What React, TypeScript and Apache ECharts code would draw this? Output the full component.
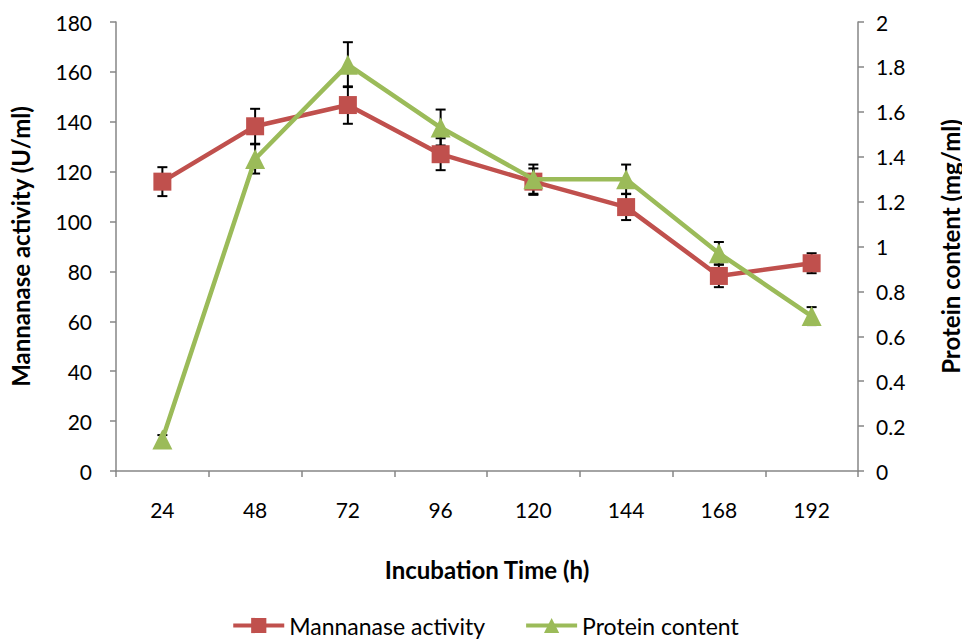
import React, { useEffect, useRef } from "react";
import * as echarts from "echarts";

const categories = ["24", "48", "72", "96", "120", "144", "168", "192"];
const mannanase = [116, 138.2, 146.7, 127, 116, 105.8, 78.2, 83.3];
const mannanaseErr = [5.8, 7, 7.5, 6.4, 5.3, 5.2, 4.5, 4];
const protein = [0.14, 1.39, 1.81, 1.53, 1.3, 1.3, 0.97, 0.69];
const proteinErr = [0.02, 0.065, 0.1, 0.08, 0.065, 0.065, 0.05, 0.04];

const FONT = "Lato";
const RED = "#C0504D";
const GREEN = "#9BBB59";
const AXIS = "#868686";

function errorRender(params: any, api: any) {
  const x = api.value(0);
  const lo = api.value(1);
  const hi = api.value(2);
  const top = api.coord([x, hi]);
  const bot = api.coord([x, lo]);
  const cap = 5;
  const style = { stroke: "#000", lineWidth: 2 };
  return {
    type: "group",
    children: [
      { type: "line", shape: { x1: top[0], y1: top[1], x2: bot[0], y2: bot[1] }, style },
      { type: "line", shape: { x1: top[0] - cap, y1: top[1], x2: top[0] + cap, y2: top[1] }, style },
      { type: "line", shape: { x1: bot[0] - cap, y1: bot[1], x2: bot[0] + cap, y2: bot[1] }, style },
    ],
  };
}

export default function App() {
  const ref = useRef<HTMLDivElement>(null);
  useEffect(() => {
    if (!ref.current) return;
    const chart = echarts.init(ref.current, null, { renderer: "svg" });
    const mErr = mannanase.map((v, i) => [i, v - mannanaseErr[i], v + mannanaseErr[i]]);
    const pErr = protein.map((v, i) => [i, v - proteinErr[i], v + proteinErr[i]]);
    const titleStyle = { fontFamily: FONT, fontWeight: "bold", fontSize: 24, color: "#000" };
    chart.setOption({
      animation: false,
      textStyle: { fontFamily: FONT },
      grid: { left: 116, right: 102, top: 22, bottom: 168 },
      legend: {
        top: 614,
        left: "center",
        padding: 0,
        itemWidth: 51,
        itemHeight: 19,
        itemGap: 39,
        lineStyle: { width: 4 },
        textStyle: { fontFamily: FONT, fontSize: 23, color: "#000" },
        data: ["Mannanase activity", "Protein content"],
      },
      xAxis: {
        type: "category",
        data: categories,
        boundaryGap: true,
        name: "Incubation Time (h)",
        nameLocation: "middle",
        nameGap: 86,
        nameTextStyle: titleStyle,
        axisLine: { lineStyle: { color: AXIS, width: 1.5 } },
        axisTick: { show: true, length: 6, lineStyle: { color: AXIS, width: 1.5 } },
        axisLabel: { fontFamily: FONT, fontSize: 21, color: "#000", margin: 28 },
      },
      yAxis: [
        {
          type: "value",
          min: 0,
          max: 180,
          interval: 20,
          position: "left",
          name: "Mannanase activity (U/ml)",
          nameLocation: "middle",
          nameGap: 84,
          nameTextStyle: titleStyle,
          axisLine: { show: true, lineStyle: { color: AXIS, width: 1.5 } },
          axisTick: { show: true, length: 6, lineStyle: { color: AXIS, width: 1.5 } },
          axisLabel: { fontFamily: FONT, fontSize: 21, color: "#000", margin: 24 },
          splitLine: { show: false },
        },
        {
          type: "value",
          min: 0,
          max: 2,
          interval: 0.2,
          position: "right",
          name: "Protein content (mg/ml)",
          nameLocation: "middle",
          nameGap: 80,
          nameRotate: 90,
          nameTextStyle: titleStyle,
          axisLine: { show: true, lineStyle: { color: AXIS, width: 1.5 } },
          axisTick: { show: true, length: 6, lineStyle: { color: AXIS, width: 1.5 } },
          axisLabel: { fontFamily: FONT, fontSize: 21, color: "#000", margin: 18 },
          splitLine: { show: false },
        },
      ],
      series: [
        {
          type: "custom",
          name: "mErr",
          yAxisIndex: 0,
          renderItem: errorRender,
          encode: { x: 0, y: [1, 2] },
          data: mErr,
          z: 1,
          silent: true,
        },
        {
          type: "custom",
          name: "pErr",
          yAxisIndex: 1,
          renderItem: errorRender,
          encode: { x: 0, y: [1, 2] },
          data: pErr,
          z: 1,
          silent: true,
        },
        {
          type: "line",
          name: "Mannanase activity",
          yAxisIndex: 0,
          data: mannanase,
          symbol: "rect",
          symbolSize: 18,
          itemStyle: { color: RED },
          lineStyle: { color: RED, width: 4.5 },
          z: 3,
        },
        {
          type: "line",
          name: "Protein content",
          yAxisIndex: 1,
          data: protein,
          symbol: "triangle",
          symbolSize: 20,
          itemStyle: { color: GREEN },
          lineStyle: { color: GREEN, width: 4.5 },
          z: 4,
        },
      ],
    });
    return () => chart.dispose();
  }, []);
  return <div ref={ref} style={{ width: 970, height: 639, margin: "-8px -8px 0 -8px" }} />;
}
